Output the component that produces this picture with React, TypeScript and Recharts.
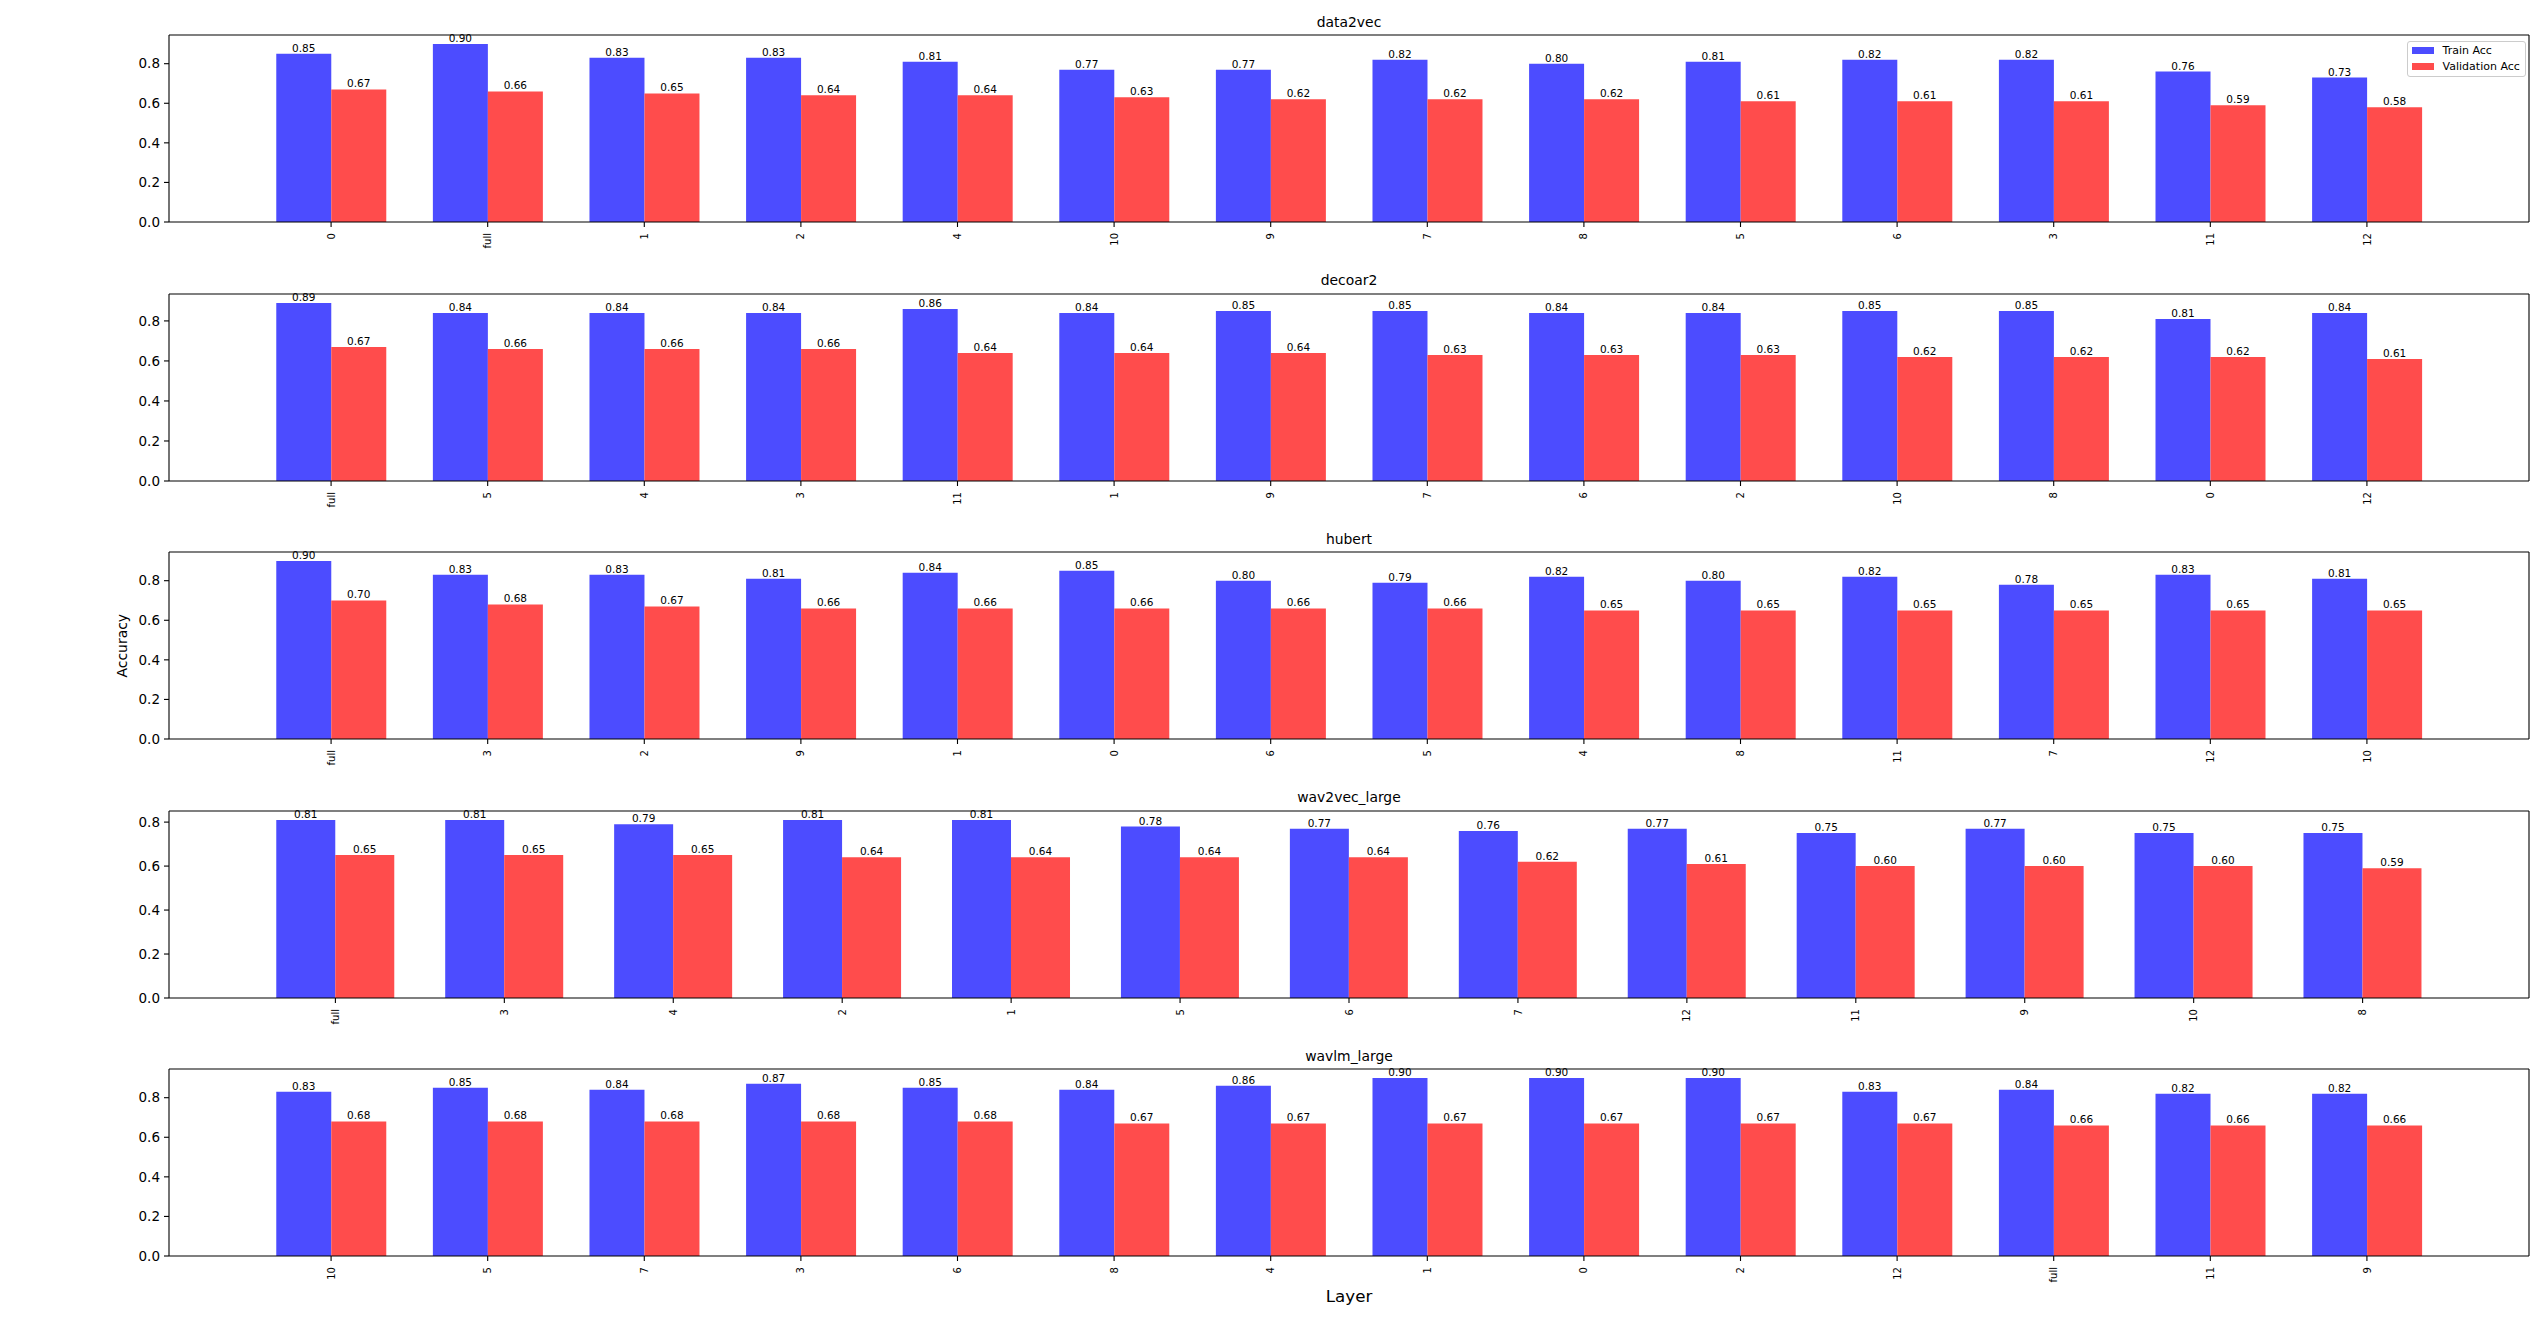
import React from 'react';
import { ComposedChart, Bar, Line, XAxis, YAxis, LabelList, Legend } from 'recharts';

// ---------- data ----------
const data2vecLayers = ['0', 'full', '1', '2', '4', '10', '9', '7', '8', '5', '6', '3', '11', '12'];
const data2vecTrain = [0.85, 0.90, 0.83, 0.83, 0.81, 0.77, 0.77, 0.82, 0.80, 0.81, 0.82, 0.82, 0.76, 0.73];
const data2vecVal = [0.67, 0.66, 0.65, 0.64, 0.64, 0.63, 0.62, 0.62, 0.62, 0.61, 0.61, 0.61, 0.59, 0.58];

const decoar2Layers = ['full', '5', '4', '3', '11', '1', '9', '7', '6', '2', '10', '8', '0', '12'];
const decoar2Train = [0.89, 0.84, 0.84, 0.84, 0.86, 0.84, 0.85, 0.85, 0.84, 0.84, 0.85, 0.85, 0.81, 0.84];
const decoar2Val = [0.67, 0.66, 0.66, 0.66, 0.64, 0.64, 0.64, 0.63, 0.63, 0.63, 0.62, 0.62, 0.62, 0.61];

const hubertLayers = ['full', '3', '2', '9', '1', '0', '6', '5', '4', '8', '11', '7', '12', '10'];
const hubertTrain = [0.90, 0.83, 0.83, 0.81, 0.84, 0.85, 0.80, 0.79, 0.82, 0.80, 0.82, 0.78, 0.83, 0.81];
const hubertVal = [0.70, 0.68, 0.67, 0.66, 0.66, 0.66, 0.66, 0.66, 0.65, 0.65, 0.65, 0.65, 0.65, 0.65];

const wav2vecLayers = ['full', '3', '4', '2', '1', '5', '6', '7', '12', '11', '9', '10', '8'];
const wav2vecTrain = [0.81, 0.81, 0.79, 0.81, 0.81, 0.78, 0.77, 0.76, 0.77, 0.75, 0.77, 0.75, 0.75];
const wav2vecVal = [0.65, 0.65, 0.65, 0.64, 0.64, 0.64, 0.64, 0.62, 0.61, 0.60, 0.60, 0.60, 0.59];

const wavlmLayers = ['10', '5', '7', '3', '6', '8', '4', '1', '0', '2', '12', 'full', '11', '9'];
const wavlmTrain = [0.83, 0.85, 0.84, 0.87, 0.85, 0.84, 0.86, 0.90, 0.90, 0.90, 0.83, 0.84, 0.82, 0.82];
const wavlmVal = [0.68, 0.68, 0.68, 0.68, 0.68, 0.67, 0.67, 0.67, 0.67, 0.67, 0.67, 0.66, 0.66, 0.66];

const yTicks = [0, 0.2, 0.4, 0.6, 0.8];
const seriesNames = ['Train Acc', 'Validation Acc'];
const seriesColors = ['#4C4CFF', '#FF4C4C'];

const panels = [
  { title: 'data2vec', layers: data2vecLayers, train: data2vecTrain, val: data2vecVal },
  { title: 'decoar2', layers: decoar2Layers, train: decoar2Train, val: decoar2Val },
  { title: 'hubert', layers: hubertLayers, train: hubertTrain, val: hubertVal },
  { title: 'wav2vec_large', layers: wav2vecLayers, train: wav2vecTrain, val: wav2vecVal },
  { title: 'wavlm_large', layers: wavlmLayers, train: wavlmTrain, val: wavlmVal },
];

// ---------- layout ----------
const FONT = '"DejaVu Sans", sans-serif';
const PAGE_W = 2548;
const PAGE_H = 1333;
const PLOT_LEFT = 169;
const PLOT_RIGHT = 2529;
const PLOT_W = PLOT_RIGHT - PLOT_LEFT;
const PLOT_H = 187;
const FIRST_TOP = 35;
const STEP = 258.6;
const CHART_TOP_PAD = 30;
const XAXIS_H = 41;
const YAXIS_W = 60;
const FRAME_AXIS = 1; // thin top / right axes used as the box frame

const RotTick = (props: any) => {
  const { x, y, payload } = props;
  return (
    <text
      x={x}
      y={y}
      transform={`rotate(-90 ${x} ${y})`}
      textAnchor="end"
      dy="0.36em"
      fontSize={10}
      fontFamily={FONT}
      fill="#000"
    >
      {payload.value}
    </text>
  );
};

const LegendBox = () => (
  <div
    style={{
      border: '1px solid #cccccc',
      borderRadius: 3,
      background: 'rgba(255,255,255,0.8)',
      padding: '0px 5px 2px 4px',
      fontFamily: FONT,
      fontSize: 11,
      color: '#000',
    }}
  >
    {seriesNames.map((n, i) => (
      <div key={n} style={{ display: 'flex', alignItems: 'center', height: 16 }}>
        <span style={{ display: 'inline-block', width: 22, height: 7.5, background: seriesColors[i], marginRight: 9 }} />
        <span style={{ whiteSpace: 'nowrap' }}>{n}</span>
      </div>
    ))}
  </div>
);

const Panel = ({ p, idx }: any) => {
  const rows = p.layers.map((l: string, i: number) => ({ layer: l, train: p.train[i], val: p.val[i] }));
  const n = p.layers.length;
  const total = (n - 0.3) * 1.1;
  const band = PLOT_W / total;
  const pad = ((total - n) / 2) * band;
  const yMax = Math.max(...p.train, ...p.val) * 1.05;
  const plotTop = FIRST_TOP + idx * STEP;
  const chartTop = plotTop - CHART_TOP_PAD;
  const H = CHART_TOP_PAD + PLOT_H + XAXIS_H;
  const fmt = (v: any) => Number(v).toFixed(2);
  const axisStyle = { stroke: '#000', strokeWidth: 1.1 };
  return (
    <div style={{ position: 'absolute', left: 0, top: chartTop, width: PAGE_W, height: H }}>
      <ComposedChart
        width={PAGE_W}
        height={H}
        data={rows}
        margin={{
          top: CHART_TOP_PAD - FRAME_AXIS,
          right: PAGE_W - PLOT_RIGHT - FRAME_AXIS,
          bottom: 0,
          left: PLOT_LEFT - YAXIS_W,
        }}
        barCategoryGap="15%"
        barGap={0}
      >
        <XAxis
          dataKey="layer"
          type="category"
          interval={0}
          padding={{ left: pad, right: pad }}
          height={XAXIS_H}
          tick={<RotTick />}
          tickSize={5}
          tickMargin={6}
          stroke="#000"
          axisLine={axisStyle}
          tickLine={axisStyle}
        />
        <XAxis
          xAxisId="top"
          orientation="top"
          dataKey="layer"
          type="category"
          padding={{ left: pad, right: pad }}
          height={FRAME_AXIS}
          tick={false}
          tickLine={false}
          stroke="#000"
          axisLine={axisStyle}
        />
        <YAxis
          domain={[0, yMax]}
          ticks={yTicks}
          allowDataOverflow
          width={YAXIS_W}
          tickFormatter={(v: number) => v.toFixed(1)}
          tick={{ fill: '#000', fontSize: 13.5, fontFamily: FONT }}
          tickSize={5}
          tickMargin={4}
          stroke="#000"
          axisLine={axisStyle}
          tickLine={axisStyle}
        />
        <YAxis
          yAxisId="right"
          orientation="right"
          width={FRAME_AXIS}
          domain={[0, yMax]}
          allowDataOverflow
          tick={false}
          tickLine={false}
          stroke="#000"
          axisLine={axisStyle}
        />
        {idx === 0 && (
          <Legend
            layout="horizontal"
            verticalAlign="middle"
            align="center"
            content={() => <LegendBox />}
            wrapperStyle={{ position: 'absolute', top: 41.3 - chartTop, left: 2406.6, right: 'auto', bottom: 'auto', width: 'auto', height: 'auto', margin: 0 }}
          />
        )}
        <Bar dataKey="train" name={seriesNames[0]} fill={seriesColors[0]} isAnimationActive={false}>
          <LabelList dataKey="train" position="top" offset={2} formatter={fmt} fill="#000" fontSize={10.5} fontFamily={FONT} />
        </Bar>
        <Bar dataKey="val" name={seriesNames[1]} fill={seriesColors[1]} isAnimationActive={false}>
          <LabelList dataKey="val" position="top" offset={2} formatter={fmt} fill="#000" fontSize={10.5} fontFamily={FONT} />
        </Bar>
        <Line
          xAxisId="top"
          yAxisId="right"
          dataKey="val"
          stroke="none"
          strokeWidth={0}
          dot={false}
          activeDot={false}
          legendType="none"
          isAnimationActive={false}
        />
      </ComposedChart>
    </div>
  );
};

export default function App() {
  const cx = (PLOT_LEFT + PLOT_RIGHT) / 2;
  return (
    <div style={{ position: 'absolute', left: 0, top: 0, width: PAGE_W, height: PAGE_H, background: '#fff', overflow: 'hidden' }}>
      {panels.map((p, i) => (
        <Panel key={p.title} p={p} idx={i} />
      ))}
      <svg width={PAGE_W} height={PAGE_H} style={{ position: 'absolute', left: 0, top: 0, pointerEvents: 'none' }}>
        {panels.map((p, i) => (
          <text key={p.title} x={cx} y={FIRST_TOP + i * STEP - 8.4} textAnchor="middle" fontSize={13.9} fontFamily={FONT} fill="#000">
            {p.title}
          </text>
        ))}
        <text x={cx} y={1302.3} textAnchor="middle" fontSize={16.7} fontFamily={FONT} fill="#000">
          Layer
        </text>
        <text
          x={127.5}
          y={FIRST_TOP + 2 * STEP + PLOT_H / 2}
          transform={`rotate(-90 127.5 ${FIRST_TOP + 2 * STEP + PLOT_H / 2})`}
          textAnchor="middle"
          fontSize={13.9}
          fontFamily={FONT}
          fill="#000"
        >
          Accuracy
        </text>
      </svg>
    </div>
  );
}
